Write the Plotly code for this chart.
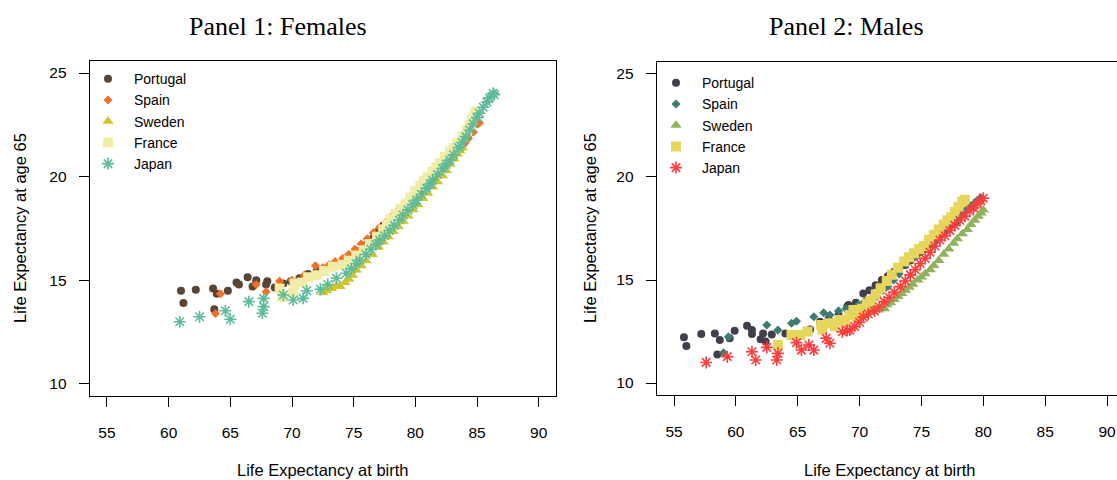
import plotly.graph_objects as go

# ---------------- data ----------------
countries = ["Portugal", "Spain", "Sweden", "France", "Japan"]
x_ticks = [55, 60, 65, 70, 75, 80, 85, 90]
y_ticks = [10, 15, 20, 25]

# Panel 1: Females  (life expectancy at birth, life expectancy at 65)
f_portugal_e0 = [61.0, 61.2, 62.2, 63.6, 63.7, 63.9, 64.8, 65.5, 65.7, 66.4, 66.8, 67.1, 67.9, 68.0, 68.6,
                 69.3, 69.9, 70.6, 71.3, 72.0, 72.5, 73.3, 74.3, 74.8, 75.4, 76.0, 76.6, 77.0, 77.4, 77.9,
                 78.3, 78.7, 79.2, 79.6, 80.0, 80.5, 80.9, 81.3, 81.8, 82.3, 82.7, 83.0, 83.5]
f_portugal_e65 = [14.5, 13.9, 14.55, 14.6, 13.6, 14.35, 14.5, 14.9, 14.8, 15.15, 14.7, 15.0, 14.8, 14.95, 14.65,
                  14.85, 14.95, 15.1, 15.3, 15.45, 15.4, 15.7, 15.9, 16.1, 16.4, 16.7, 17.05, 17.35, 17.65, 17.9,
                  18.15, 18.4, 18.7, 18.95, 19.2, 19.35, 19.5, 19.8, 20.15, 20.5, 20.8, 21.0, 21.4]

f_spain_e0 = [63.8, 64.2, 67.1, 67.9, 69.0, 70.0, 71.0, 71.9, 72.5, 73.0, 73.5, 74.1, 74.6, 75.1, 75.6,
              76.1, 76.6, 77.1, 77.6, 78.1, 78.6, 79.1, 79.6, 80.1, 80.6, 81.1, 81.6, 82.0, 82.4, 82.8,
              83.2, 83.7, 84.0, 84.3, 84.7, 85.1, 85.2]
f_spain_e65 = [13.4, 14.35, 14.8, 14.45, 14.95, 15.0, 15.25, 15.7, 15.6, 15.75, 15.9, 16.05, 16.25, 16.5, 16.75,
               17.0, 17.3, 17.55, 17.8, 18.1, 18.35, 18.6, 18.85, 19.1, 19.4, 19.7, 20.0, 20.25, 20.5, 20.8,
               21.05, 21.35, 21.6, 21.85, 22.15, 22.55, 22.6]

f_sweden_e0 = [72.5, 72.8, 73.2, 73.6, 73.9, 74.3, 74.6, 74.9, 75.2, 75.6, 76.0, 76.5, 77.0, 77.4, 77.8,
               78.2, 78.6, 79.0, 79.4, 79.8, 80.2, 80.6, 81.0, 81.4, 81.8, 82.2, 82.5, 82.8, 83.1, 83.4,
               83.6, 83.8]
f_sweden_e65 = [14.4, 14.5, 14.6, 14.75, 14.7, 14.9, 15.05, 15.25, 15.5, 15.7, 15.95, 16.25, 16.6, 16.85, 17.1,
                17.35, 17.6, 17.85, 18.1, 18.4, 18.65, 18.95, 19.2, 19.5, 19.75, 20.05, 20.3, 20.6, 20.85, 21.1,
                21.25, 21.4]

f_france_e0 = [69.0, 69.2, 70.1, 70.2, 70.8, 71.3, 72.0, 72.6, 73.3, 74.1, 74.6, 75.2, 75.8, 76.3, 76.9,
               77.4, 77.7, 78.0, 78.4, 78.8, 79.2, 79.6, 80.0, 80.4, 80.7, 81.0, 81.4, 81.7, 82.0, 82.4,
               82.8, 83.1, 83.4, 83.8, 84.2, 84.4, 84.6, 84.8, 84.9]
f_france_e65 = [14.6, 14.2, 14.4, 14.85, 14.9, 15.15, 15.25, 15.45, 15.65, 15.75, 15.95, 16.2, 16.45, 16.75, 17.1,
                17.45, 17.7, 17.95, 18.2, 18.45, 18.7, 19.0, 19.3, 19.55, 19.8, 20.0, 20.25, 20.45, 20.65, 20.95,
                21.2, 21.4, 21.65, 21.95, 22.25, 22.5, 22.75, 23.0, 23.15]

f_japan_e0 = [60.9, 62.5, 64.6, 65.0, 66.5, 67.6, 67.7, 67.7, 69.3, 70.1, 70.9, 71.2, 72.3, 72.9, 73.6,
              74.4, 74.8, 75.2, 75.5, 76.0, 76.4, 76.8, 77.1, 77.5, 77.9, 78.3, 78.7, 79.0, 79.4, 79.8,
              80.1, 80.5, 80.9, 81.2, 81.4, 81.8, 82.2, 82.5, 82.8, 83.1, 83.5, 83.8, 84.1, 84.4, 84.7,
              85.0, 85.2, 85.5, 85.8, 86.0, 86.3, 86.4]
f_japan_e65 = [13.0, 13.24, 13.53, 13.12, 13.97, 13.41, 13.73, 14.13, 14.29, 14.05, 14.13, 14.5, 14.57, 14.8, 15.1,
               15.34, 15.55, 15.8, 15.98, 16.25, 16.5, 16.72, 16.94, 17.15, 17.4, 17.65, 17.91, 18.15, 18.4, 18.65,
               18.87, 19.15, 19.45, 19.65, 19.84, 20.1, 20.4, 20.6, 20.8, 21.05, 21.4, 21.65, 21.93, 22.25, 22.55,
               22.85, 23.06, 23.35, 23.6, 23.8, 24.02, 23.95]

# Panel 2: Males
m_portugal_e0 = [55.8, 56.0, 57.2, 58.3, 58.5, 58.7, 59.5, 59.9, 60.9, 61.3, 61.3, 62.0, 62.2, 62.4, 62.9,
                 64.0, 64.6, 66.0, 66.8, 67.5, 68.3, 69.0, 69.1, 69.7, 70.3, 70.8, 71.3, 71.8, 72.3, 72.8,
                 73.2, 73.7, 74.1, 74.5, 74.9, 75.3, 75.7, 76.1, 76.5, 76.9, 77.2, 77.5, 77.8, 78.0]
m_portugal_e65 = [12.22, 11.8, 12.38, 12.41, 11.39, 12.09, 12.17, 12.54, 12.78, 12.57, 12.38, 12.12, 12.41, 12.01, 12.36,
                  12.41, 12.3, 12.6, 12.98, 13.1, 13.3, 13.7, 13.79, 13.9, 14.35, 14.5, 14.75, 15.0, 15.2, 15.4,
                  15.55, 15.73, 15.95, 16.15, 16.35, 16.55, 16.75, 16.95, 17.18, 17.35, 17.5, 17.7, 17.85, 17.95]

m_spain_e0 = [59.0, 59.4, 62.5, 63.4, 64.5, 64.9, 66.3, 67.1, 67.6, 68.3, 68.9, 69.4, 69.9, 70.4, 70.9,
              71.4, 71.9, 72.3, 72.75, 73.2, 73.8, 74.3, 74.8, 75.2, 75.7, 76.2, 76.6, 77.0, 77.4, 77.8,
              78.2, 78.6, 79.0, 79.4, 79.8]
m_spain_e65 = [11.47, 12.25, 12.82, 12.57, 12.9, 13.0, 13.22, 13.41, 13.3, 13.5, 13.6, 13.55, 13.8, 13.95, 14.05,
               14.2, 14.5, 14.7, 15.0, 15.3, 15.8, 16.05, 16.3, 16.55, 16.8, 17.0, 17.25, 17.5, 17.75, 18.0,
               18.2, 18.4, 18.6, 18.8, 19.0]

m_sweden_e0 = [69.9, 70.3, 70.6, 70.9, 71.2, 71.5, 71.8, 72.0, 72.2, 72.5, 72.8, 73.1, 73.4, 73.7, 74.0,
               74.3, 74.7, 75.0, 75.3, 75.7, 76.0, 76.4, 76.8, 77.2, 77.6, 77.9, 78.3, 78.7, 79.0, 79.3,
               79.6, 79.8, 80.0]
m_sweden_e65 = [13.55, 13.45, 13.6, 13.5, 13.65, 13.55, 13.7, 13.6, 13.8, 13.9, 14.05, 14.2, 14.35, 14.5, 14.65,
                14.8, 15.0, 15.15, 15.3, 15.5, 15.7, 15.95, 16.25, 16.5, 16.78, 17.0, 17.25, 17.45, 17.7, 17.9,
                18.1, 18.25, 18.4]

m_france_e0 = [63.4, 64.5, 65.2, 65.8, 66.9, 67.0, 67.6, 68.0, 68.4, 68.8, 69.2, 69.5, 69.8, 70.2, 70.6,
               70.9, 71.3, 71.7, 72.2, 72.6, 73.1, 73.6, 74.0, 74.4, 74.8, 75.2, 75.6, 76.0, 76.4, 76.8,
               77.1, 77.4, 77.7, 78.0, 78.3, 78.5]
m_france_e65 = [11.84, 12.33, 12.33, 12.5, 12.82, 12.6, 12.9, 12.75, 13.06, 13.0, 13.3, 13.54, 13.2, 13.6, 13.85,
                14.0, 14.3, 14.6, 14.95, 15.25, 15.6, 15.9, 16.1, 16.3, 16.5, 16.65, 16.95, 17.2, 17.45, 17.7,
                17.9, 18.05, 18.3, 18.55, 18.8, 18.9]

m_japan_e0 = [57.6, 59.3, 61.3, 61.6, 62.5, 63.3, 63.4, 64.9, 65.3, 65.9, 66.3, 67.3, 67.6, 68.6, 69.0,
              69.2, 69.6, 70.0, 70.3, 70.7, 71.2, 71.6, 72.0, 72.4, 72.8, 73.3, 73.7, 74.1, 74.5, 74.9,
              75.3, 75.7, 76.1, 76.5, 76.9, 77.3, 77.7, 78.1, 78.5, 78.9, 79.2, 79.5, 79.8, 80.0]
m_japan_e65 = [11.0, 11.28, 11.52, 11.12, 11.73, 11.12, 11.44, 11.96, 11.6, 11.84, 11.6, 12.17, 11.93, 12.49, 12.55,
               12.57, 12.75, 12.95, 13.2, 13.35, 13.5, 13.7, 13.95, 14.15, 14.4, 14.68, 14.95, 15.25, 15.5, 15.8,
               16.05, 16.35, 16.65, 16.94, 17.15, 17.4, 17.65, 17.9, 18.1, 18.35, 18.5, 18.7, 18.85, 18.97]

f_e0 = [f_portugal_e0, f_spain_e0, f_sweden_e0, f_france_e0, f_japan_e0]
f_e65 = [f_portugal_e65, f_spain_e65, f_sweden_e65, f_france_e65, f_japan_e65]
m_e0 = [m_portugal_e0, m_spain_e0, m_sweden_e0, m_france_e0, m_japan_e0]
m_e65 = [m_portugal_e65, m_spain_e65, m_sweden_e65, m_france_e65, m_japan_e65]

# ---------------- styles ----------------
symbols = ["circle", "diamond", "triangle-up", "square", "asterisk-open"]
sizes = [8, 7, 10, 10, 10]
f_colors = ["#5A4535", "#F36F21", "#CFC52A", "#F1ECA6", "#5DBA9B"]
m_colors = ["#433E4E", "#3E7B72", "#8FB35B", "#E6D65B", "#FF3D3D"]

SANS = "Liberation Sans, Arial, Helvetica, sans-serif"
SERIF = "Liberation Serif, Times New Roman, serif"

fig = go.Figure()


def add_panel(e0s, e65s, colors, xa, ya, leg):
    for i, name in enumerate(countries):
        marker = dict(symbol=symbols[i], size=sizes[i], color=colors[i])
        if symbols[i] == "asterisk-open":
            marker["line"] = dict(color=colors[i], width=1.6)
        else:
            marker["line"] = dict(width=0)
        fig.add_trace(go.Scatter(x=e0s[i], y=e65s[i], mode="markers", name=name,
                                 marker=marker, xaxis=xa, yaxis=ya, legend=leg,
                                 hoverinfo="x+y+name"))


add_panel(f_e0, f_e65, f_colors, "x", "y", "legend")
add_panel(m_e0, m_e65, m_colors, "x2", "y2", "legend2")

W, H = 1117, 480


def px(x):
    return x / W


def py(y):
    return 1 - y / H


axis_common = dict(showline=True, linecolor="black", linewidth=1, ticks="outside", ticklen=10,
                   tickwidth=1, tickcolor="black", showgrid=False, zeroline=False,
                   tickfont=dict(family=SANS, size=15.5, color="black"), automargin=False)

fig.update_layout(
    width=W, height=H, margin=dict(l=0, r=0, t=0, b=0),
    paper_bgcolor="white", plot_bgcolor="white", showlegend=True,
    xaxis=dict(domain=[px(89.7), px(556)], range=[53.6, 91.4], tickvals=x_ticks, mirror=True,
               anchor="y", ticklabelstandoff=12, **axis_common),
    yaxis=dict(domain=[py(396.4), py(60.6)], range=[9.4, 25.6], tickvals=y_ticks, mirror=True,
               anchor="x", ticklabelstandoff=9, **axis_common),
    xaxis2=dict(domain=[px(656.7), 1.0], range=[53.6, 90 + (1117 - 1107) / 12.37], tickvals=x_ticks,
                mirror=True, anchor="y2", ticklabelstandoff=12, ticklabeloverflow="allow", **axis_common),
    yaxis2=dict(domain=[py(395.4), py(61.6)], range=[9.4, 25.6], tickvals=y_ticks, mirror=False,
                anchor="x2", ticklabelstandoff=9, **axis_common),
    legend=dict(x=px(82), y=py(63.2), xanchor="left", yanchor="top", bgcolor="rgba(0,0,0,0)",
                font=dict(family=SANS, size=14, color="black"), itemwidth=42, borderwidth=0),
    legend2=dict(x=px(650), y=py(67.2), xanchor="left", yanchor="top", bgcolor="rgba(0,0,0,0)",
                 font=dict(family=SANS, size=14, color="black"), itemwidth=42, borderwidth=0),
)

ann = []
ann.append(dict(text="Panel 1: Females", x=px(278), y=py(26), xref="paper", yref="paper",
                showarrow=False, xanchor="center", yanchor="middle",
                font=dict(family=SERIF, size=26, color="black")))
ann.append(dict(text="Panel 2: Males", x=px(846), y=py(26), xref="paper", yref="paper",
                showarrow=False, xanchor="center", yanchor="middle",
                font=dict(family=SERIF, size=26, color="black")))
for xc in [323, 890]:
    ann.append(dict(text="Life Expectancy at birth", x=px(xc), y=py(470), xref="paper", yref="paper",
                    showarrow=False, xanchor="center", yanchor="middle",
                    font=dict(family=SANS, size=16.5, color="black")))
for xc in [20, 590]:
    ann.append(dict(text="Life Expectancy at age 65", x=px(xc), y=py(228), xref="paper", yref="paper",
                    showarrow=False, xanchor="center", yanchor="middle", textangle=-90,
                    font=dict(family=SANS, size=16.5, color="black")))
fig.update_layout(annotations=ann)

# remove the default 8px page margin so the figure fills the window exactly
fig.write_html("out.html", config={"displayModeBar": False},
               post_script="document.body.style.margin='0';document.body.style.overflow='hidden';")
